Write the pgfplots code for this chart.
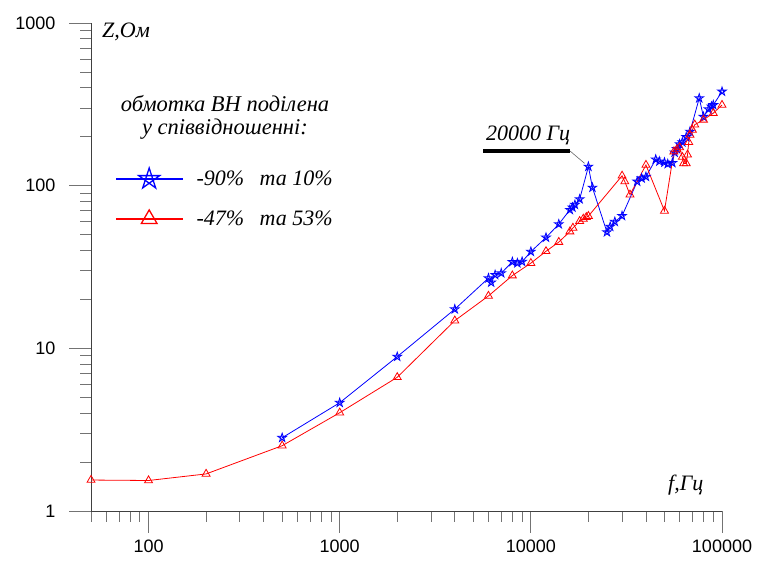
\documentclass[border=0pt]{standalone}
\usepackage{pgfplots}
\pgfplotsset{compat=1.18}
\usepackage{fontspec}
\setmainfont{Liberation Serif}
\newfontfamily\arial{Liberation Sans}
\definecolor{zblue}{RGB}{0,0,255}
\definecolor{zred}{RGB}{255,0,0}
\pgfdeclareplotmark{pentagram}{%
  \pgfpathmoveto{\pgfpointpolar{90}{\pgfplotmarksize}}%
  \pgfpathlineto{\pgfpointpolar{234}{\pgfplotmarksize}}%
  \pgfpathlineto{\pgfpointpolar{18}{\pgfplotmarksize}}%
  \pgfpathlineto{\pgfpointpolar{162}{\pgfplotmarksize}}%
  \pgfpathlineto{\pgfpointpolar{306}{\pgfplotmarksize}}%
  \pgfpathclose\pgfusepathqstroke}
\pgfplotstableread{
f z
500 2.82
1000 4.63
2000 8.89
4000 17.4
6000 27.0
6200 25.4
6500 28.3
7000 29.0
8000 34.0
8500 33.4
9000 34.1
10000 39.3
12000 48.0
14000 58.0
16000 71.0
16500 73.5
17000 76.4
18000 82.6
20000 131
21000 97.3
25000 51.8
26000 56
27500 60
30000 65.2
36000 106
38000 111
40000 113.5
45000 145
47000 141
50000 139
52000 136
55000 138
56500 160
58000 168
60000 180
62000 185
65000 199
68000 215
76000 345
80000 265
85000 295
88000 307
90000 313
100000 379
}\blue
\pgfplotstableread{
f z
50 1.55
100 1.54
200 1.69
500 2.52
1000 4.02
2000 6.64
4000 14.8
6000 21.0
8000 28.0
10000 33.4
12000 39.5
14000 45.0
16000 52.2
16600 55
18000 60.5
18800 62.5
19500 64
20000 65
30000 115
31000 106
33000 88
40000 134
50000 70
56000 162
58000 167
60000 172
62000 150
63000 137
65000 137
66000 155
67000 185
68000 205
70000 220
72000 237
80000 254
90000 279
100000 313
}\red
\begin{document}
\begin{tikzpicture}[x=1bp,y=1bp]
\useasboundingbox (0,0) rectangle (757,570);
\begin{axis}[
  at={(91bp,59bp)}, anchor=south west,
  scale only axis, width=631bp, height=488bp,
  xmode=log, ymode=log,
  xmin=50, xmax=100000, ymin=1, ymax=1000,
  axis x line=bottom, axis y line=left,
  axis line style={-, black!75, line width=0.8pt},
  tick align=outside,
  major tick length=22bp, minor tick length=11bp,
  every tick/.style={black!55, line width=0.8pt},
  xtick={100,1000,10000,100000}, xticklabels={100,1000,10000,100000},
  minor xtick={50,60,70,80,90,200,300,400,500,600,700,800,900,2000,3000,4000,5000,6000,7000,8000,9000,20000,30000,40000,50000,60000,70000,80000,90000},
  ytick={1,10,100,1000}, yticklabels={1,10,100,1000},
  minor ytick={2,3,4,5,6,7,8,9,20,30,40,50,60,70,80,90,200,300,400,500,600,700,800,900},
  ticklabel style={font=\arial\fontsize{18bp}{20bp}\selectfont},
  yticklabel style={xshift=-10bp},
  xticklabel style={yshift=-3bp},
  clip=false,
  legend style={draw=none, fill=none, inner sep=0pt, outer sep=0pt,
    at={(0.038,0.6424)}, anchor=west, row sep=22bp,
    font=\itshape\fontsize{22bp}{24bp}\selectfont,
    nodes={inner sep=0pt}},
  legend cell align=left,
]
\addplot[zblue, line width=0.8pt, mark=pentagram, mark size=4.6bp,
  legend image code/.code={\draw[line width=2.4bp, mark size=11bp, mark options={line width=1.3bp}, mark repeat=2, mark phase=2] plot coordinates {(0bp,0bp) (33bp,0bp) (67bp,0bp)}; \path (80bp,0bp);}]
  table[x=f,y=z] {\blue};
\addlegendentry{-90\%\hspace{0.45em} та 10\%}
\addplot[zred, line width=0.8pt, mark=triangle, mark size=4.6bp,
  legend image code/.code={\draw[line width=2.4bp, mark size=9bp, mark options={line width=1.3bp}, mark repeat=2, mark phase=2] plot coordinates {(0bp,0bp) (33bp,0bp) (67bp,0bp)}; \path (80bp,0bp);}]
  table[x=f,y=z] {\red};
\addlegendentry{-47\%\hspace{0.45em} та 53\%}
\coordinate (pk) at (axis cs:20000,131);
\end{axis}
\node[anchor=west, font=\itshape\fontsize{22bp}{24bp}\selectfont, inner sep=0pt] at (102,538) {Z,Ом};
\node[anchor=west, font=\itshape\fontsize{22bp}{24bp}\selectfont, inner sep=0pt] at (668,85) {f,Гц};
\node[align=center, font=\itshape\fontsize{22.5bp}{23bp}\selectfont, inner sep=0pt] at (225,453) {обмотка ВН поділена\\у співвідношенні:};
\node[anchor=base west, font=\itshape\fontsize{22bp}{24bp}\selectfont, inner sep=0pt] at (486,429) {20000 Гц};
\draw[black, line width=4bp] (483,419) -- (570,419);
\draw[black!60, line width=0.6bp, shorten >=5bp] (570,419) -- (pk);
\end{tikzpicture}
\end{document}
